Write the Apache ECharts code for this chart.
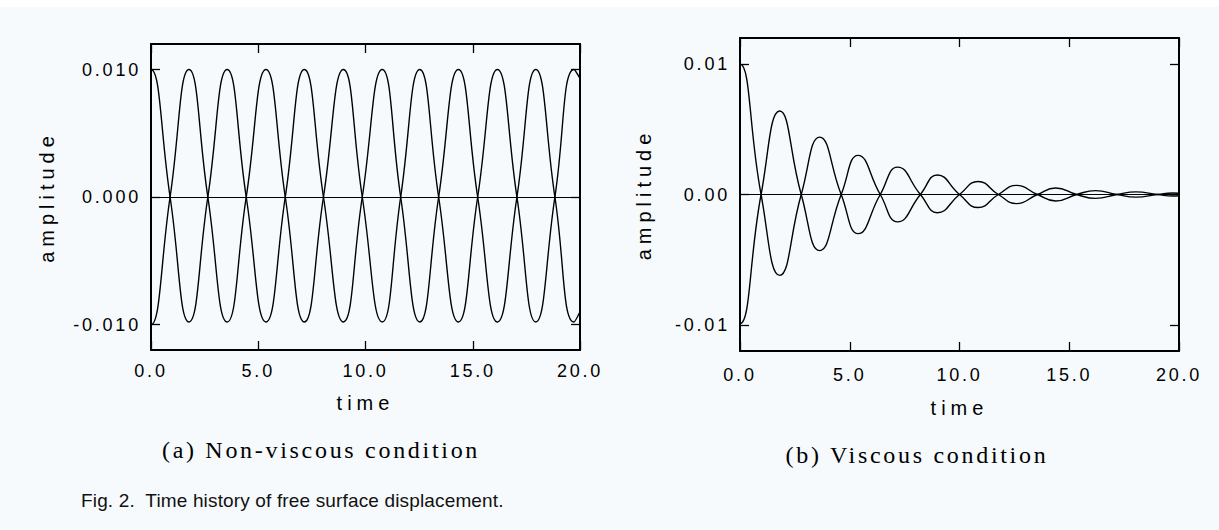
<!DOCTYPE html>
<html>
<head>
<meta charset="utf-8">
<script src="https://cdn.jsdelivr.net/npm/echarts@6/dist/echarts.min.js"></script>
<style>
  html, body { margin: 0; padding: 0; background: #f7fafc; }
  #chart { width: 1219px; height: 530px; }
  /* the scan is stretched sideways, so the sans labels look spaced out */
  #chart text[style*="18px"] { letter-spacing: 2.8px; }
  #chart text[style*="20px"] { letter-spacing: 5px; }
  #chart text[style*="19px"] { letter-spacing: 0.15px; white-space: pre; }
  #chart text[style*="Liberation Serif"] { letter-spacing: 2.7px; }
</style>
</head>
<body>
<div id="chart"></div>
<script>
// (a) non-viscous: peaks and zero crossings
// first entry sits just left of the frame so the curve leaves t=0 flat
const leftTime = [-0.89, 0.0, 0.89, 1.77, 2.65, 3.55, 4.44, 5.36, 6.26, 7.15, 8.04, 8.97, 9.85,
  10.78, 11.64, 12.53, 13.41, 14.33, 15.23, 16.15, 17.06, 17.94, 18.83, 19.72, 20.0]
const leftUp = [0, 0.0100, 0, -0.0098, 0, 0.0100, 0, -0.0098, 0, 0.0100, 0, -0.0098, 0,
  0.0100, 0, -0.0098, 0, 0.0100, 0, -0.0098, 0, 0.0100, 0, -0.0098, -0.0090]
const leftDown = [0, -0.0100, 0, 0.0100, 0, -0.0098, 0, 0.0100, 0, -0.0098, 0, 0.0100, 0,
  -0.0098, 0, 0.0100, 0, -0.0098, 0, 0.0100, 0, -0.0098, 0, 0.0100, 0.0093]

// (b) viscous: damped
const rightTime = [-0.96, 0.0, 0.96, 1.81, 2.79, 3.63, 4.61, 5.38, 6.39, 7.18, 8.22, 8.99, 10.0,
  10.85, 11.77, 12.6, 13.55, 14.38, 15.34, 16.2, 17.17, 18.04, 19.03, 19.71, 20.0]
const rightUp = [0, 0.0100, 0, -0.0062, 0, 0.0044, 0, -0.0030, 0, 0.0021, 0, -0.0014, 0,
  0.0010, 0, -0.0007, 0, 0.0005, 0, -0.0003, 0, 0.0002, 0, -0.00012, -0.0001]
const rightDown = [0, -0.0099, 0, 0.0064, 0, -0.0043, 0, 0.0030, 0, -0.0021, 0, 0.0015, 0,
  -0.0010, 0, 0.0007, 0, -0.0005, 0, 0.0003, 0, -0.0002, 0, 0.00012, 0.0001]

const xTicks = [0, 5, 10, 15, 20]
const yTicks = [-0.01, 0, 0.01]

const pairs = (ts, vs) => ts.map((t, i) => [t, vs[i]])

const sans = 'Liberation Sans'
const black = '#000'

function xAx(grid, pos, labelMargin, nameGap) {
  return {
    type: 'value', gridIndex: grid, position: pos,
    min: 0, max: 20, interval: 5,
    name: pos === 'bottom' ? 'time' : '',
    nameLocation: 'middle', nameGap: nameGap,
    nameTextStyle: { fontFamily: sans, fontSize: 20, color: black },
    axisLine: { onZero: false, lineStyle: { color: black, width: 2 } },
    axisTick: { inside: true, length: 9, customValues: xTicks, lineStyle: { color: black, width: 1.3 } },
    axisLabel: {
      show: pos === 'bottom', margin: labelMargin, customValues: xTicks,
      fontFamily: sans, fontSize: 18, color: black,
      formatter: v => v.toFixed(1)
    },
    splitLine: { show: false }
  }
}

function yAx(grid, pos, digits, nameGap) {
  return {
    type: 'value', gridIndex: grid, position: pos,
    min: -0.012, max: 0.012,
    name: pos === 'left' ? 'amplitude' : '',
    nameLocation: 'middle', nameGap: nameGap,
    nameTextStyle: { fontFamily: sans, fontSize: 20, color: black },
    axisLine: { onZero: false, lineStyle: { color: black, width: 2 } },
    axisTick: { inside: true, length: 9, customValues: yTicks, lineStyle: { color: black, width: 1.3 } },
    axisLabel: {
      show: pos === 'left', margin: 10, customValues: yTicks,
      fontFamily: sans, fontSize: 18, color: black,
      formatter: v => v.toFixed(digits)
    },
    splitLine: { show: false }
  }
}

function curve(name, x, y, data, zeroLine) {
  const s = {
    name: name, type: 'line', xAxisIndex: x, yAxisIndex: y,
    data: data, smooth: 0.5, showSymbol: false, clip: true,
    lineStyle: { color: black, width: 1.4 }
  }
  if (zeroLine) {
    s.markLine = {
      silent: true, symbol: 'none', label: { show: false },
      lineStyle: { color: black, width: 1, type: 'solid' },
      data: [{ yAxis: 0 }]
    }
  }
  return s
}

const option = {
  animation: false,
  backgroundColor: '#f7fafc',
  grid: [
    { left: 151, top: 44, width: 429, height: 306 },
    { left: 740, top: 38, width: 439, height: 313 }
  ],
  xAxis: [
    xAx(0, 'bottom', 12, 43),
    xAx(0, 'top', 12, 43),
    xAx(1, 'bottom', 15, 47),
    xAx(1, 'top', 15, 47)
  ],
  yAxis: [
    yAx(0, 'left', 3, 94),
    yAx(0, 'right', 3, 94),
    yAx(1, 'left', 2, 86),
    yAx(1, 'right', 2, 86)
  ],
  series: [
    curve('non-viscous 1', 0, 0, pairs(leftTime, leftUp), true),
    curve('non-viscous 2', 0, 0, pairs(leftTime, leftDown), false),
    curve('viscous 1', 2, 2, pairs(rightTime, rightUp), true),
    curve('viscous 2', 2, 2, pairs(rightTime, rightDown), false)
  ],
  graphic: [
    { type: 'rect', left: 0, top: 0, shape: { width: 1219, height: 7 }, style: { fill: '#fff' } },
    {
      type: 'text', x: 321, y: 450,
      style: { text: '(a) Non-viscous condition', fontFamily: 'Liberation Serif', fontSize: 24,
        fill: black, textAlign: 'center', textVerticalAlign: 'middle' }
    },
    {
      type: 'text', x: 917, y: 455,
      style: { text: '(b) Viscous condition', fontFamily: 'Liberation Serif', fontSize: 24,
        fill: black, textAlign: 'center', textVerticalAlign: 'middle' }
    },
    {
      type: 'text', x: 81, y: 500,
      style: { text: 'Fig. 2.  Time history of free surface displacement.', fontFamily: sans,
        fontSize: 19, fill: '#111', textAlign: 'left', textVerticalAlign: 'middle' }
    }
  ]
}

const chart = echarts.init(document.getElementById('chart'), null, { renderer: 'svg' })
chart.setOption(option)
</script>
</body>
</html>
